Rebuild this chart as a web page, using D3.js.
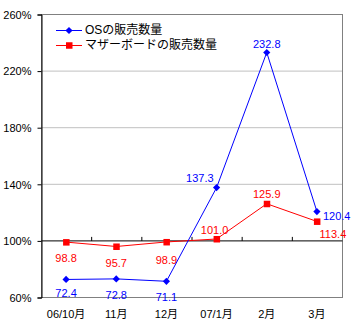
<!DOCTYPE html>
<html>
<head>
<meta charset="utf-8">
<script src="https://cdn.jsdelivr.net/npm/d3@7"></script>
<style>
  html, body { margin: 0; padding: 0; background: #fff; }
  svg { display: block; }
  text { font-family: "Liberation Sans", "Noto Sans CJK JP", sans-serif; }
</style>
</head>
<body>
<svg id="chart" width="356" height="329"></svg>
<script>
// Monthly sales ratio (%), year-over-year
const months = ["06/10月", "11月", "12月", "07/1月", "2月", "3月"];
const osSales = [72.4, 72.8, 71.1, 137.3, 232.8, 120.4];
const boardSales = [98.8, 95.7, 98.9, 101.0, 125.9, 113.4];
const yTicks = [60, 100, 140, 180, 220, 260];
const seriesNames = ["OSの販売数量", "マザーボードの販売数量"];

// label placement per point: [dx, dy, anchor]
const osLabelPos = [
  [0, 14, "middle"], [0, 16, "middle"], [0, 16, "middle"],
  [-3, -9, "end"], [0, -8, "middle"], [6, 5, "start"]
];
const boardLabelPos = [
  [0, 16, "middle"], [0, 17, "middle"], [0, 18, "middle"],
  [-2, -9, "middle"], [0, -10, "middle"], [16, 13, "middle"]
];

const svg = d3.select("#chart");
const plotLeft = 41, plotRight = 342, plotTop = 14, plotBottom = 297;

const x = d3.scaleBand().domain(months).range([plotLeft, plotRight]);
const y = d3.scaleLinear().domain([60, 260]).range([plotBottom, plotTop]);

// gridlines
svg.append("g").selectAll("line")
  .data(yTicks.filter(d => d !== 100 && d !== 60 && d !== 260))
  .join("line")
  .attr("x1", plotLeft).attr("x2", plotRight)
  .attr("y1", d => y(d) + 0.5).attr("y2", d => y(d) + 0.5)
  .attr("stroke", "#c0c0c0").attr("stroke-width", 1);

// plot border
svg.append("rect")
  .attr("x", plotLeft + 0.5).attr("y", plotTop + 0.5)
  .attr("width", plotRight - plotLeft).attr("height", plotBottom - plotTop)
  .attr("fill", "none").attr("stroke", "#808080");

// value axis
const yAxis = d3.axisLeft(y).tickValues(yTicks).tickSize(4).tickFormat(d => d + "%");
const gy = svg.append("g").attr("transform", `translate(${plotLeft + 0.5},0.5)`).call(yAxis);
gy.select(".domain").attr("stroke", "#000");
gy.selectAll(".tick line").attr("stroke", "#000");
gy.selectAll(".tick text").attr("font-size", 11).attr("fill", "#000").attr("x", -10).attr("dy", "0.35em");

// category axis crossing at 100%
const gx = svg.append("g").attr("transform", `translate(0.5,${y(100) + 0.5})`);
gx.append("line").attr("x1", plotLeft).attr("x2", plotRight).attr("stroke", "#000");
gx.selectAll("line.tk")
  .data(months.slice(1))
  .join("line").attr("class", "tk")
  .attr("x1", d => x(d)).attr("x2", d => x(d))
  .attr("y1", 0).attr("y2", -4).attr("stroke", "#000");

// category labels under the plot
svg.append("g").selectAll("text")
  .data(months).join("text")
  .attr("x", d => x(d) + x.bandwidth() / 2)
  .attr("y", 318)
  .attr("text-anchor", "middle")
  .attr("font-size", 11)
  .text(d => d);

const cx = (d, i) => x(months[i]) + x.bandwidth() / 2;
const line = d3.line().x(cx).y(d => y(d));
const diamondPath = "M0,-3.6L3.6,0L0,3.6L-3.6,0Z";

function drawSeries(values, color, marker, labelPos) {
  const g = svg.append("g");
  g.append("path").datum(values)
    .attr("d", line).attr("fill", "none")
    .attr("stroke", color).attr("stroke-width", 1);
  if (marker === "diamond") {
    g.selectAll("path.m").data(values).join("path").attr("class", "m")
      .attr("d", diamondPath)
      .attr("transform", (d, i) => `translate(${cx(d, i)},${y(d)})`)
      .attr("fill", color);
  } else {
    g.selectAll("rect").data(values).join("rect")
      .attr("x", (d, i) => cx(d, i) - 3).attr("y", d => y(d) - 3)
      .attr("width", 6.5).attr("height", 6.5).attr("fill", color);
  }
  g.selectAll("text").data(values).join("text")
    .attr("x", (d, i) => cx(d, i) + labelPos[i][0])
    .attr("y", (d, i) => y(d) + labelPos[i][1])
    .attr("text-anchor", (d, i) => labelPos[i][2])
    .attr("dy", "0.35em")
    .attr("font-size", 11)
    .attr("fill", color)
    .text(d => d.toFixed(1));
}

drawSeries(boardSales, "#ff0000", "square", boardLabelPos);
drawSeries(osSales, "#0000ff", "diamond", osLabelPos);

// legend
const legend = svg.append("g");
const legendItems = [
  { name: seriesNames[0], color: "#0000ff", marker: "diamond" },
  { name: seriesNames[1], color: "#ff0000", marker: "square" }
];
legendItems.forEach((it, i) => {
  const ly = 30 + i * 15;
  legend.append("line").attr("x1", 56).attr("x2", 82)
    .attr("y1", ly + 0.5).attr("y2", ly + 0.5).attr("stroke", it.color);
  if (it.marker === "diamond") {
    legend.append("path").attr("d", diamondPath)
      .attr("transform", `translate(69,${ly + 0.5})`).attr("fill", it.color);
  } else {
    legend.append("rect").attr("x", 66).attr("y", ly - 2.75)
      .attr("width", 6.5).attr("height", 6.5).attr("fill", it.color);
  }
  legend.append("text").attr("x", 85).attr("y", ly).attr("dy", "0.35em")
    .attr("font-size", 12)
    .attr("font-family", "'Noto Sans CJK JP', sans-serif")
    .text(it.name);
});
</script>
</body>
</html>
